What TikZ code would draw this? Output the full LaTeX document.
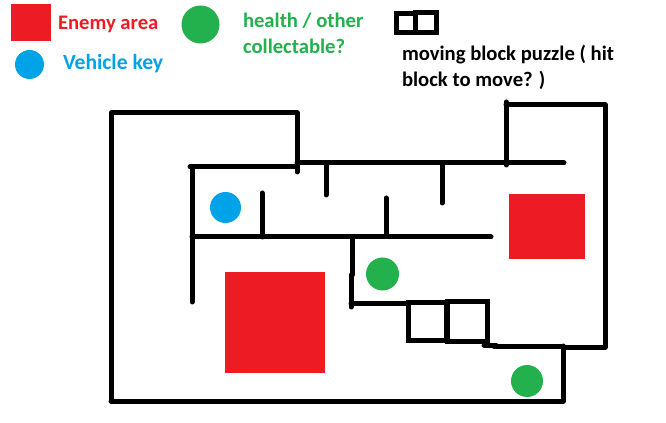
\documentclass[tikz,border=0pt]{standalone}
\usepackage{fontspec}
\setmainfont{Carlito}
\definecolor{enemyred}{HTML}{ED1C24}
\definecolor{keyblue}{HTML}{00A2E8}
\definecolor{healthgreen}{HTML}{22B14C}
\tikzset{
  wall/.style={draw=black,line width=3.75pt,line cap=round,line join=round},
  blockwall/.style={draw=black,line width=3.75pt,line join=miter},
  enemy/.style={fill=enemyred,draw=none},
  vkey/.style={fill=keyblue,draw=none},
  health/.style={fill=healthgreen,draw=none},
  label/.style={anchor=base west,inner sep=0pt,outer sep=0pt,font=\fontsize{15.5pt}{18.75pt}\selectfont\bfseries,align=left}
}
\begin{document}
\begin{tikzpicture}[x=0.75pt,y=-0.75pt]
\useasboundingbox[fill=white] (0,0) rectangle (666,423);
% legend
\fill[enemy] (11,4) rectangle (51,41);
\fill[health] (200.5,24.5) circle (19);
\fill[vkey] (29.5,64.5) circle (14.5);
\node[label,text=enemyred] (t1) at (58,29.5) {Enemy area};
\node[label,text=keyblue,font=\fontsize{16.2pt}{18.75pt}\selectfont\bfseries] (t2) at (63,69.5) {Vehicle key};
\node[label,text=healthgreen] (t3) at (243,27.5) {health / other};
\node[label,text=healthgreen] (t4) at (243,53.5) {collectable?};
\node[label,text=black] (t5) at (402,61) {moving block puzzle ( hit};
\node[label,text=black] (t6) at (402,87) {block to move? )};
\draw[blockwall] (396.5,13.5) rectangle (415.5,32.5);
\draw[blockwall] (415.5,12.5) rectangle (436.5,32.5);
% fills on the map
\fill[enemy] (225,272) rectangle (325,373);
\fill[enemy] (509,194) rectangle (585,259);
\fill[vkey] (225.5,207.5) circle (15.5);
\fill[health] (382.5,274) circle (16.5);
\fill[health] (527,381) circle (16);
% walls
\draw[wall] (111,401) -- (111,113) -- (297,113) -- (297,172);
\draw[wall] (190,167) -- (297,167);
\draw[wall] (297,163) -- (564,163);
\draw[wall] (192,167) -- (192,302);
\draw[wall] (192,237) -- (491,237);
\draw[wall] (262,193) -- (262,237);
\draw[wall] (326,163) -- (326,195);
\draw[wall] (442,163) -- (442,203);
\draw[wall] (386,198) -- (386,235);
\draw[wall] (352,237) -- (352,275);
\draw[wall] (351,275) -- (351,307);
\draw[wall] (351,304) -- (408,304);
\draw[blockwall] (408,303) rectangle (446,340);
\draw[blockwall] (447,302) rectangle (487,341);
\draw[wall] (484,345) -- (496,345);
\draw[wall] (494,346) -- (563,346);
\draw[wall] (563,346) -- (563,401) -- (111,401);
\draw[wall] (563,347) -- (605,347) -- (605,105) -- (506,105);
\draw[wall] (506,102) -- (506,165);
\end{tikzpicture}
\end{document}
